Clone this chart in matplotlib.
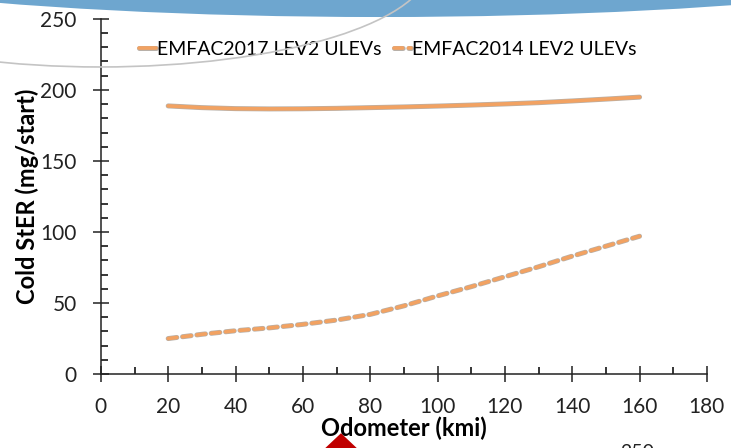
import matplotlib.pyplot as plt
import matplotlib.patheffects as pe
from matplotlib.patches import Ellipse, Polygon
from matplotlib.ticker import MultipleLocator

odometer = [20, 30, 40, 50, 60, 70, 80, 90, 100, 110, 120, 130, 140, 150, 160]
emfac2017 = [188.7, 187.5, 186.8, 186.6, 186.7, 187.0, 187.5, 188.0, 188.6, 189.3, 190.1, 191.0, 192.2, 193.5, 194.9]
emfac2014 = [25.0, 28.0, 30.5, 32.5, 35.0, 38.0, 42.0, 48.0, 55.0, 61.5, 68.5, 75.5, 83.0, 90.0, 97.0]

plt.rcParams['font.family'] = ['Lato', 'DejaVu Sans']
orange = '#F2A262'
shadow = [pe.Stroke(linewidth=3.6, foreground='#b8b0a8'), pe.Normal()]

fig = plt.figure(figsize=(7.31, 4.48), dpi=100)

# slide decoration behind the chart
fig.patches.append(Ellipse((0.52, 1.157), 1.915, 0.39, transform=fig.transFigure,
                           facecolor='#6ea6cf', edgecolor='none', zorder=0))
fig.patches.append(Ellipse((0.137, 1.078), 0.903, 0.455, transform=fig.transFigure,
                           facecolor='none', edgecolor='#c4c4c4', lw=1.2, zorder=0))
fig.patches.append(Polygon([[0.445, 0.0], [0.488, 0.0], [0.4665, 0.033]],
                           transform=fig.transFigure, facecolor='#c00000',
                           edgecolor='none', zorder=0))
fig.text(0.848, -0.022, '250', fontsize=14, color='#222222')

ax = fig.add_axes([0.138, 0.165, 0.829, 0.793])
ax.patch.set_alpha(0)

ax.plot(odometer, emfac2017, color=orange, lw=2.6, solid_capstyle='round',
        path_effects=shadow, label='EMFAC2017 LEV2 ULEVs')
ax.plot(odometer, emfac2014, color=orange, lw=2.6, dashes=(2.4, 1.6),
        dash_capstyle='round', path_effects=shadow, label='EMFAC2014 LEV2 ULEVs')

ax.set_xlim(0, 180)
ax.set_ylim(0, 250)
ax.xaxis.set_major_locator(MultipleLocator(20))
ax.xaxis.set_minor_locator(MultipleLocator(10))
ax.yaxis.set_major_locator(MultipleLocator(50))
ax.yaxis.set_minor_locator(MultipleLocator(10))
ax.tick_params(which='major', direction='inout', length=11, width=1.1,
               labelsize=15, colors='#222222')
ax.tick_params(axis='x', which='major', pad=11)
ax.tick_params(axis='y', which='major', pad=12)
ax.tick_params(which='minor', direction='in', length=5, width=1.1)

for s in ['top', 'right']:
    ax.spines[s].set_visible(False)
for s in ['left', 'bottom']:
    ax.spines[s].set_linewidth(1.1)
    ax.spines[s].set_color('#222222')

ax.set_xlabel('Odometer (kmi)', fontsize=17, fontweight='bold', labelpad=0)
ax.set_ylabel('Cold StER (mg/start)', fontsize=17, fontweight='bold', labelpad=1)

ax.legend(loc='center left', bbox_to_anchor=(0.05, 0.915), ncol=2, frameon=False,
          fontsize=14, handlelength=0.9, handletextpad=0.05, columnspacing=0.6,
          borderaxespad=0)

fig.savefig('out.png', dpi=100)
